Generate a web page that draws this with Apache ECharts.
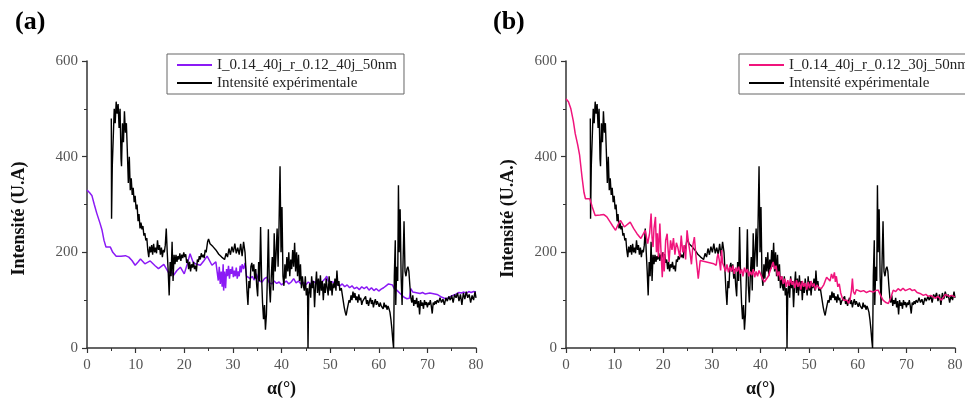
<!DOCTYPE html>
<html>
<head>
<meta charset="utf-8">
<script src="https://cdn.jsdelivr.net/npm/echarts@6/dist/echarts.min.js"></script>
<style>
html,body{margin:0;padding:0;background:#fff;overflow:hidden;}
#chart{width:965px;height:403px;}
</style>
</head>
<body>
<div id="chart"></div>
<script>
// ---------- data ----------
const xTicks = [0, 10, 20, 30, 40, 50, 60, 70, 80];
const yTicks = [0, 200, 400, 600];

const nameSimA = 'I_0.14_40j_r_0.12_40j_50nm';
const nameSimB = 'I_0.14_40j_r_0.12_30j_50nm';
const nameExp = 'Intensité expérimentale';

// experimental intensity (same curve in both panels)
const expAlpha = [5.0,5.05,5.2,5.4,5.6,5.8,6.0,6.2,6.4,6.6,6.8,7.0,7.1,7.3,7.5,7.7,7.9,8.1,8.3,8.5,8.7,8.9,9.1,9.3,9.5,9.7,9.9,10.1,10.3,10.5,10.7,10.9,11.1,11.3,11.5,11.7,11.9,12.1,12.3,12.5,12.7,12.9,13.1,13.3,13.5,13.7,13.9,14.1,14.3,14.5,14.7,14.9,15.1,15.3,15.5,15.7,15.9,16.1,16.3,16.5,16.7,16.9,17.1,17.3,17.5,17.7,17.9,18.1,18.3,18.5,18.7,18.9,19.1,19.3,19.5,19.7,19.9,20.1,20.3,20.5,20.7,20.9,21.1,21.3,21.5,21.7,21.9,22.1,22.3,22.5,22.7,22.9,23.1,23.3,23.5,23.7,23.9,24.1,24.3,24.5,24.8,25.0,25.3,25.6,25.9,26.2,26.5,26.8,27.1,27.4,27.7,28.0,28.3,28.6,28.9,29.2,29.5,29.8,30.1,30.4,30.7,31.0,31.3,31.6,31.9,32.2,32.5,32.7,32.9,33.1,33.3,33.5,33.7,33.9,34.1,34.3,34.5,34.7,34.9,35.1,35.3,35.5,35.7,35.9,36.1,36.3,36.5,36.7,36.9,37.1,37.3,37.5,37.7,37.9,38.1,38.3,38.5,38.7,38.9,39.1,39.3,39.5,39.7,39.9,40.1,40.3,40.5,40.7,40.9,41.1,41.3,41.5,41.7,41.9,42.1,42.3,42.5,42.7,42.9,43.1,43.3,43.5,43.7,43.9,44.1,44.3,44.5,44.7,44.9,45.1,45.35,45.45,45.6,45.8,46.0,46.2,46.4,46.6,46.8,47.0,47.2,47.4,47.6,47.8,48.0,48.2,48.4,48.6,48.8,49.0,49.2,49.4,49.6,49.8,50.0,50.2,50.4,50.6,50.8,51.0,51.2,51.4,51.6,51.8,52.0,52.3,52.6,52.9,53.1,53.3,53.5,53.7,53.9,54.1,54.3,54.5,54.7,54.9,55.1,55.3,55.5,55.7,55.9,56.1,56.3,56.5,56.7,56.9,57.1,57.3,57.5,57.7,57.9,58.1,58.3,58.5,58.7,58.9,59.1,59.3,59.5,59.7,59.9,60.1,60.3,60.5,60.7,60.9,61.1,61.3,61.5,61.7,61.9,62.1,62.3,62.5,62.7,62.9,63.05,63.2,63.4,63.5,63.7,63.9,64.05,64.2,64.4,64.6,64.8,65.0,65.2,65.4,65.6,65.8,66.0,66.2,66.4,66.6,66.8,67.0,67.2,67.4,67.6,67.8,68.0,68.2,68.4,68.6,68.8,69.0,69.2,69.4,69.6,69.8,70.0,70.2,70.4,70.6,70.8,71.0,71.2,71.4,71.6,71.8,72.0,72.3,72.6,72.9,73.2,73.5,73.8,74.1,74.4,74.7,75.0,75.3,75.6,75.9,76.2,76.5,76.8,77.1,77.4,77.7,78.0,78.3,78.6,78.9,79.2,79.5,79.8,80.0];
const expI = [480,270,380,440,500,470,515,490,510,460,500,395,380,470,430,495,450,470,410,345,400,330,355,320,335,305,318,290,300,265,280,250,262,248,255,235,240,225,230,205,190,212,200,215,195,218,200,210,198,225,205,215,195,210,190,205,200,215,250,200,160,110,180,150,222,140,195,175,195,180,192,185,198,182,195,188,200,190,196,178,185,165,180,160,175,168,180,165,172,160,185,180,192,185,198,190,195,188,205,200,222,228,218,222,212,215,205,202,196,200,190,192,185,198,190,208,195,212,200,218,198,210,195,218,192,222,200,160,120,90,140,125,170,178,160,175,145,165,130,108,180,140,253,150,95,60,90,38,70,150,248,130,95,150,190,120,240,160,200,250,170,260,380,200,295,150,130,175,145,190,160,200,150,185,165,205,170,220,160,200,150,195,140,175,125,150,130,120,150,110,125,0,110,135,105,150,125,140,85,130,160,115,145,110,152,120,140,100,135,115,145,125,110,150,120,140,110,135,125,145,120,162,130,140,120,125,105,85,75,68,80,90,100,95,110,100,118,105,115,100,108,95,112,100,105,90,98,102,95,108,92,100,88,98,105,92,100,85,95,102,90,98,92,86,95,88,92,82,95,85,90,80,88,82,75,60,40,15,0,150,225,90,170,140,340,200,290,150,90,180,265,160,150,165,170,160,130,105,95,110,88,100,92,105,85,98,70,100,88,95,82,100,90,96,85,95,90,100,88,72,95,90,98,92,100,95,105,95,102,90,105,98,108,100,110,95,112,105,115,98,112,90,115,102,118,105,112,95,110,100,118,105];

// simulation (a)
const simAAlpha = [0,0.5,1.0,1.5,2.0,2.7,3.1,3.5,3.9,4.8,5.3,6.0,7.0,7.9,8.6,9.25,9.9,10.5,11.0,11.9,13.0,14.0,14.7,15.8,16.8,17.3,17.8,18.5,19.2,20.0,20.6,21.2,21.8,22.3,23.3,24.0,24.7,25.7,26.5,27.0,27.2,27.4,27.6,27.8,28.0,28.1,28.3,28.5,28.7,28.9,29.1,29.3,29.5,29.7,29.9,30.1,30.3,30.5,30.7,30.9,31.1,31.3,31.5,31.7,31.9,32.2,32.5,32.8,33.2,33.6,34.0,34.4,34.8,35.0,35.4,36.0,36.5,37.0,37.5,38.0,38.5,39.0,39.5,40.0,40.5,41.0,41.5,42.0,42.5,43.0,43.5,44.0,44.5,45.0,45.5,46.0,46.5,47.0,47.5,48.0,48.5,49.0,49.3,49.6,50.0,50.5,51.0,51.5,52.0,52.5,53.0,53.5,54.0,54.5,55.0,55.5,56.0,56.5,57.0,57.5,58.0,58.5,59.0,59.5,60.0,60.5,61.0,61.5,62.0,62.4,62.8,63.2,63.7,64.0,64.4,64.8,65.2,65.8,66.3,66.6,67.0,67.5,68.0,68.5,69.0,69.5,70.0,70.5,71.0,71.3,72.0,72.5,73.0,73.5,74.0,74.5,75.0,75.5,76.0,76.5,77.0,77.5,78.0,78.5,79.0,79.5,80.0];
const simAI = [330,325,319,300,282,260,246,225,211,211,200,192,192,193,190,183,173,180,186,176,182,172,166,175,157,160,152,162,169,155,175,197,180,176,173,182,192,173,180,141,170,134,160,128,175,120,160,125,165,150,172,145,165,155,170,148,162,150,168,145,160,150,172,158,175,165,178,150,152,145,150,142,155,150,140,138,145,148,136,134,140,135,138,132,136,140,134,138,145,136,140,134,137,132,138,134,140,136,142,134,140,145,150,140,144,138,136,132,130,134,128,132,126,130,124,127,122,128,124,128,121,126,120,124,119,123,126,130,134,138,132,124,121,118,114,110,106,103,104,124,117,116,115,114,116,113,114,115,114,117,112,109,106,104,103,106,109,111,113,116,115,117,114,118,116,118,117];

// simulation (b)
const simBAlpha = [0,0.5,1.0,1.5,1.9,2.4,2.8,3.3,3.7,4.0,4.9,5.4,6.0,7.0,7.8,8.4,9.1,9.6,10.2,10.7,11.2,12.0,13.2,13.9,14.6,15.4,16.3,16.8,17.2,17.5,17.7,17.9,18.1,18.4,18.6,18.8,19.0,19.3,19.5,19.8,20.0,20.2,20.5,20.8,21.0,21.2,21.5,21.8,22.1,22.4,22.7,23.0,23.4,23.7,24.0,24.3,24.6,24.9,25.2,25.5,25.8,26.1,26.4,26.7,27.0,27.2,27.6,30.4,30.9,31.1,31.3,31.5,31.8,32.0,32.2,32.5,32.8,33.1,33.4,33.7,34.0,34.3,34.6,34.9,35.2,35.5,35.8,36.1,36.4,36.7,37.0,37.3,37.6,37.9,38.2,38.5,38.8,39.1,39.4,39.7,40.0,40.4,40.8,41.2,41.6,42.0,42.3,42.6,42.9,43.2,43.5,43.8,44.1,44.4,44.7,45.0,45.3,45.6,45.9,46.2,46.5,46.8,47.1,47.4,47.7,48.0,48.3,48.6,48.9,49.2,49.5,49.8,50.1,50.4,50.7,51.0,51.3,51.6,52.0,52.5,53.0,53.3,53.6,54.0,54.3,54.6,54.9,55.2,55.4,55.6,55.9,56.2,56.5,56.8,57.1,57.4,57.8,58.1,58.4,58.7,58.9,59.1,59.4,59.7,60.1,60.6,61.2,61.8,62.4,63.2,63.7,64.2,64.7,65.2,65.8,66.3,66.8,67.3,67.8,68.3,68.8,69.3,69.8,70.2,70.7,71.2,71.7,72.2,72.8,73.5,74.0,74.5,75.0,75.5,76.0,76.5,77.2,77.6,78.0,78.3,78.8,79.3,80.0];
const simBI = [521,515,500,475,448,425,403,357,325,312,312,295,277,278,279,274,263,255,246,258,267,253,263,250,239,229,246,218,240,281,230,211,250,274,200,240,190,260,210,148,200,160,225,239,205,180,225,205,230,195,220,210,190,235,200,215,185,246,220,200,175,215,232,195,165,145,183,176,173,190,197,185,162,205,178,170,160,175,158,170,160,172,155,168,160,170,155,165,150,168,158,165,150,160,152,165,148,160,150,162,155,145,138,134,150,162,170,180,165,172,150,160,142,150,134,145,128,142,130,145,132,140,125,142,128,138,122,140,128,136,122,138,125,140,128,135,122,132,126,124,132,140,148,150,140,155,145,158,138,150,128,134,115,105,100,96,100,93,100,120,145,118,112,122,121,118,120,116,119,117,120,121,110,100,95,93,105,121,118,124,120,125,120,124,124,120,122,116,114,110,112,108,110,107,104,108,100,106,112,114,108,110,107];

// ---------- chart ----------
const pairs = (xs, ys) => xs.map((x, i) => [x, ys[i]]);
const serif = 'Liberation Serif';

function xAxisCfg(gridIndex) {
  return {
    type: 'value', gridIndex, min: 0, max: 80, interval: 10,
    name: 'α(°)', nameLocation: 'middle', nameGap: 32,
    nameTextStyle: { fontFamily: serif, fontSize: 18, fontWeight: 'bold', color: '#111' },
    axisLine: { show: true, onZero: false, lineStyle: { color: '#333', width: 1.5 } },
    axisTick: { show: true, inside: false, length: 5, lineStyle: { color: '#333', width: 1.2 } },
    minorTick: { show: true, splitNumber: 2, length: 3, lineStyle: { color: '#333', width: 1 } },
    axisLabel: { fontFamily: serif, fontSize: 15, color: '#555', margin: 10 },
    splitLine: { show: false }
  };
}
function yAxisCfg(gridIndex, name, gap) {
  return {
    type: 'value', gridIndex, min: 0, max: 600, interval: 200,
    name, nameLocation: 'middle', nameGap: gap,
    nameTextStyle: { fontFamily: serif, fontSize: 18, fontWeight: 'bold', color: '#111',
      padding: [0, 28, 0, 0] },
    axisLine: { show: true, onZero: false, lineStyle: { color: '#333', width: 1.5 } },
    axisTick: { show: true, inside: false, length: 5, lineStyle: { color: '#333', width: 1.2 } },
    minorTick: { show: true, splitNumber: 2, length: 3, lineStyle: { color: '#333', width: 1 } },
    axisLabel: { fontFamily: serif, fontSize: 15, color: '#555', margin: 9 },
    splitLine: { show: false }
  };
}
function legendCfg(left, simName) {
  return {
    left, top: 54, orient: 'vertical',
    data: [simName, nameExp],
    backgroundColor: '#fff',
    borderColor: '#666', borderWidth: 1, borderRadius: 0,
    padding: [3, 7, 3, 10], itemGap: 2,
    icon: 'rect', itemWidth: 35, itemHeight: 2,
    textStyle: { fontFamily: serif, fontSize: 15, color: '#222', lineHeight: 16 }
  };
}

const chart = echarts.init(document.getElementById('chart'), null, { renderer: 'canvas', width: 965, height: 403 });
chart.setOption({
  animation: false,
  backgroundColor: '#fff',
  grid: [
    { left: 87, top: 61, width: 389, height: 287, containLabel: false, outerBoundsMode: 'none' },
    { left: 566, top: 61, width: 389, height: 287, containLabel: false, outerBoundsMode: 'none' }
  ],
  xAxis: [xAxisCfg(0), xAxisCfg(1)],
  yAxis: [yAxisCfg(0, 'Intensité (U.A)', 59), yAxisCfg(1, 'Intensité (U.A.)', 49)],
  legend: [legendCfg(167, nameSimA), legendCfg(739, nameSimB)],
  graphic: [
    { type: 'text', left: 15, top: 9, style: { text: '(a)', font: 'bold 26px "Liberation Serif"', fill: '#000' } },
    { type: 'text', left: 493, top: 9, style: { text: '(b)', font: 'bold 26px "Liberation Serif"', fill: '#000' } }
  ],
  series: [
    { name: nameSimA, type: 'line', xAxisIndex: 0, yAxisIndex: 0, data: pairs(simAAlpha, simAI),
      showSymbol: false, symbol: 'none', color: '#8B1AF5', lineStyle: { width: 1.5, color: '#8B1AF5' } },
    { name: nameExp, type: 'line', xAxisIndex: 0, yAxisIndex: 0, data: pairs(expAlpha, expI),
      showSymbol: false, symbol: 'none', color: '#000', lineStyle: { width: 1.4, color: '#000' } },
    { name: nameExp, type: 'line', xAxisIndex: 1, yAxisIndex: 1, data: pairs(expAlpha, expI),
      showSymbol: false, symbol: 'none', color: '#000', lineStyle: { width: 1.4, color: '#000' } },
    { name: nameSimB, type: 'line', xAxisIndex: 1, yAxisIndex: 1, data: pairs(simBAlpha, simBI),
      showSymbol: false, symbol: 'none', color: '#F0147C', lineStyle: { width: 1.5, color: '#F0147C' } }
  ]
});
</script>
</body>
</html>
